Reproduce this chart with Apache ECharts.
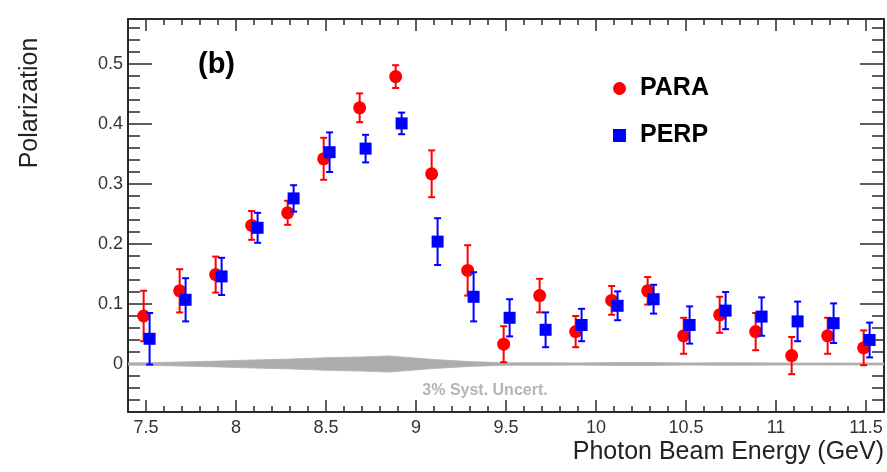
<!DOCTYPE html>
<html>
<head>
<meta charset="utf-8">
<script src="https://cdn.jsdelivr.net/npm/echarts@6/dist/echarts.min.js"></script>
<style>
  html, body { margin: 0; padding: 0; background: #fff; }
  #chart { width: 887px; height: 472px; }
</style>
</head>
<body>
<div id="chart"></div>
<script>
// ---- data ----
const energies = [7.5, 7.7, 7.9, 8.1, 8.3, 8.5, 8.7, 8.9, 9.1, 9.3, 9.5, 9.7, 9.9, 10.1, 10.3, 10.5, 10.7, 10.9, 11.1, 11.3, 11.5];
const paraShift = -0.013;
const perpShift = 0.02;
const paraValues = [0.080, 0.122, 0.149, 0.231, 0.252, 0.342, 0.427, 0.479, 0.317, 0.156, 0.033, 0.114, 0.054, 0.106, 0.122, 0.047, 0.082, 0.054, 0.014, 0.047, 0.027];
const paraErrors = [0.042, 0.036, 0.030, 0.024, 0.020, 0.035, 0.024, 0.019, 0.039, 0.042, 0.030, 0.028, 0.026, 0.024, 0.023, 0.030, 0.030, 0.031, 0.031, 0.030, 0.029];
const perpValues = [0.042, 0.107, 0.146, 0.227, 0.276, 0.353, 0.359, 0.401, 0.204, 0.112, 0.077, 0.057, 0.065, 0.097, 0.108, 0.065, 0.089, 0.079, 0.071, 0.068, 0.040];
const perpErrors = [0.043, 0.036, 0.031, 0.025, 0.022, 0.033, 0.023, 0.018, 0.039, 0.041, 0.031, 0.029, 0.027, 0.024, 0.024, 0.031, 0.031, 0.032, 0.033, 0.033, 0.029];
// systematic-uncertainty band (half width around 0)
const bandEnergies = [7.4, 7.5, 7.7, 7.9, 8.1, 8.3, 8.5, 8.7, 8.85, 9.1, 9.3, 9.5, 9.7, 9.9, 10.1, 10.3, 10.5, 10.7, 10.9, 11.1, 11.3, 11.5, 11.6];
const bandHalfWidth = [0.0020, 0.0022, 0.0035, 0.0048, 0.0068, 0.0082, 0.0104, 0.0118, 0.0135, 0.0075, 0.0040, 0.0020, 0.0022, 0.0018, 0.0024, 0.0026, 0.0017, 0.0022, 0.0019, 0.0016, 0.0017, 0.0016, 0.0016];
// axis ticks
const xMajorTicks = [7.5, 8, 8.5, 9, 9.5, 10, 10.5, 11, 11.5];
const yMajorTicks = [0, 0.1, 0.2, 0.3, 0.4, 0.5];
const xRange = [7.4, 11.6];
const yRange = [-0.08, 0.575];

// minor tick positions
const xMinorTicks = [];
for (let i = 74; i <= 116; i++) xMinorTicks.push(i / 10);
const yMinorTicks = [];
for (let i = -4; i <= 28; i++) yMinorTicks.push(+(i * 0.02).toFixed(2));

const RED = '#ff0000', BLUE = '#0000ff', AXIS = '#2a2a2a';
const FONT = '"Liberation Sans", Arial, Helvetica, sans-serif';

function makeAxis(kind, pos, ticks, len, showLabel, showLine) {
  const range = kind === 'x' ? xRange : yRange;
  return {
    type: 'value', position: pos, min: range[0], max: range[1],
    gridIndex: 0,
    splitLine: { show: false },
    axisLine: { show: showLine, onZero: false, lineStyle: { color: AXIS, width: 2 } },
    axisTick: { show: true, inside: true, length: len, customValues: ticks, lineStyle: { color: AXIS, width: 1.5 } },
    axisLabel: showLabel ? {
      show: true, customValues: ticks, color: '#333', fontSize: 18, fontFamily: FONT,
      margin: kind === 'x' ? 7 : 5,
      formatter: v => String(+v.toFixed(2))
    } : { show: false }
  };
}

function errorRender(color) {
  return function (params, api) {
    const x = api.value(0), y = api.value(1), e = api.value(2);
    const top = api.coord([x, y + e]);
    const bot = api.coord([x, y - e]);
    const cap = 3.5;
    const st = { stroke: color, lineWidth: 2 };
    return {
      type: 'group',
      children: [
        { type: 'line', shape: { x1: top[0], y1: top[1], x2: bot[0], y2: bot[1] }, style: st },
        { type: 'line', shape: { x1: top[0] - cap, y1: top[1], x2: top[0] + cap, y2: top[1] }, style: st },
        { type: 'line', shape: { x1: bot[0] - cap, y1: bot[1], x2: bot[0] + cap, y2: bot[1] }, style: st }
      ]
    };
  };
}

function bandRender(params, api) {
  if (params.dataIndex !== 0) return null;
  const pts = [];
  for (let i = 0; i < bandEnergies.length; i++) pts.push(api.coord([bandEnergies[i], bandHalfWidth[i]]));
  for (let i = bandEnergies.length - 1; i >= 0; i--) pts.push(api.coord([bandEnergies[i], -bandHalfWidth[i]]));
  return { type: 'polygon', shape: { points: pts }, style: { fill: '#adadad', stroke: '#b0b0b0', lineWidth: 0.8 } };
}

const paraPts = energies.map((e, i) => [e + paraShift, paraValues[i]]);
const perpPts = energies.map((e, i) => [e + perpShift, perpValues[i]]);
const paraErr = energies.map((e, i) => [e + paraShift, paraValues[i], paraErrors[i]]);
const perpErr = energies.map((e, i) => [e + perpShift, perpValues[i], perpErrors[i]]);

const chart = echarts.init(document.getElementById('chart'), null, { renderer: 'canvas' });
chart.setOption({
  animation: false,
  backgroundColor: '#ffffff',
  textStyle: { fontFamily: FONT },
  grid: { left: 128, right: 3, top: 19, bottom: 60, containLabel: false },
  xAxis: [
    makeAxis('x', 'bottom', xMajorTicks, 12, true, true),
    makeAxis('x', 'bottom', xMinorTicks, 6, false, false),
    makeAxis('x', 'top', xMajorTicks, 12, false, true),
    makeAxis('x', 'top', xMinorTicks, 6, false, false)
  ],
  yAxis: [
    makeAxis('y', 'left', yMajorTicks, 24, true, true),
    makeAxis('y', 'left', yMinorTicks, 12, false, false),
    makeAxis('y', 'right', yMajorTicks, 24, false, true),
    makeAxis('y', 'right', yMinorTicks, 12, false, false)
  ],
  legend: {
    orient: 'vertical', left: 608, top: 71,
    itemWidth: 13, itemHeight: 13, itemGap: 22,
    textStyle: { fontSize: 25, fontWeight: 'bold', color: '#000', fontFamily: FONT, padding: [0, 0, 0, 9] },
    data: [{ name: 'PARA', icon: 'circle' }, { name: 'PERP', icon: 'rect' }]
  },
  series: [
    { type: 'custom', name: 'band', data: bandEnergies.map((e, i) => [e, bandHalfWidth[i]]),
      renderItem: bandRender, clip: true, z: 1, silent: true },
    { type: 'custom', name: 'PARA err', data: paraErr, encode: { x: 0, y: 1 },
      renderItem: errorRender(RED), z: 2, silent: true },
    { type: 'scatter', name: 'PARA', data: paraPts, symbol: 'circle', symbolSize: 13,
      itemStyle: { color: RED, opacity: 1 }, z: 3 },
    { type: 'custom', name: 'PERP err', data: perpErr, encode: { x: 0, y: 1 },
      renderItem: errorRender(BLUE), z: 4, silent: true },
    { type: 'scatter', name: 'PERP', data: perpPts, symbol: 'rect', symbolSize: 12,
      itemStyle: { color: BLUE, opacity: 1 }, z: 5 }
  ],
  graphic: [
    { type: 'text', left: 198, top: 50, style: { text: '(b)', font: 'bold 29px ' + FONT, fill: '#000' } },
    { type: 'text', x: 485, y: 391, style: { text: '3% Syst. Uncert.', font: 'bold 16px ' + FONT, fill: '#b4b4b4', align: 'center', verticalAlign: 'middle' } },
    { type: 'text', x: 884, y: 452, style: { text: 'Photon Beam Energy (GeV)', font: '25px ' + FONT, fill: '#222', align: 'right', verticalAlign: 'middle' } },
    { type: 'text', x: 30, y: 103, rotation: Math.PI / 2, style: { text: 'Polarization', font: '25px ' + FONT, fill: '#222', align: 'center', verticalAlign: 'middle' } }
  ]
});
</script>
</body>
</html>
